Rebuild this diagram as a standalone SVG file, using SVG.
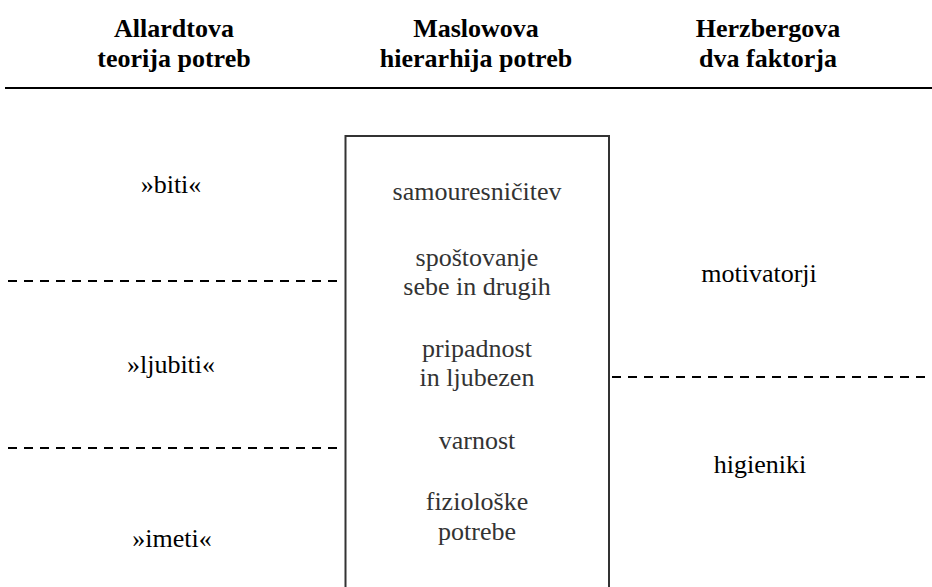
<svg xmlns="http://www.w3.org/2000/svg" width="932" height="587" viewBox="0 0 932 587">
<style>
.h{font-family:'Liberation Serif','Times New Roman',serif;font-weight:bold;font-size:26px;fill:#000;text-anchor:middle}
.t{font-family:'Liberation Serif','Times New Roman',serif;font-size:26px;fill:#000;text-anchor:middle}
.b{font-family:'Liberation Serif','Times New Roman',serif;font-size:26px;fill:#333;text-anchor:middle}
.d{stroke:#000;stroke-width:2;stroke-dasharray:9 7;fill:none}
</style>
<rect width="932" height="587" fill="#fff"/>
<g id="header">
<text class="h" x="174" y="37">Allardtova</text>
<text class="h" x="174" y="67">teorija potreb</text>
<text class="h" x="476" y="37">Maslowova</text>
<text class="h" x="476" y="67">hierarhija potreb</text>
<text class="h" x="768" y="37">Herzbergova</text>
<text class="h" x="768" y="67">dva faktorja</text>
<line x1="5" y1="88" x2="932" y2="88" stroke="#000" stroke-width="2"/>
</g>
<g id="connectors">
<line class="d" x1="8" y1="281" x2="340" y2="281"/>
<line class="d" x1="8" y1="448" x2="340" y2="448"/>
<line class="d" x1="612" y1="377" x2="932" y2="377"/>
</g>
<g id="maslow">
<path d="M345.5 587 V136 H609 V587" fill="none" stroke="#333" stroke-width="2"/>
<text class="b" x="477" y="200">samouresničitev</text>
<text class="b" x="477" y="266">spoštovanje</text>
<text class="b" x="477" y="295">sebe in drugih</text>
<text class="b" x="477" y="357">pripadnost</text>
<text class="b" x="477" y="386">in ljubezen</text>
<text class="b" x="477" y="449">varnost</text>
<text class="b" x="477" y="510">fiziološke</text>
<text class="b" x="477" y="540">potrebe</text>
</g>
<g id="allardt">
<text class="t" x="171" y="193">»biti«</text>
<text class="t" x="171" y="373">»ljubiti«</text>
<text class="t" x="172" y="547">»imeti«</text>
</g>
<g id="herzberg">
<text class="t" x="759" y="282">motivatorji</text>
<text class="t" x="760" y="473">higieniki</text>
</g>
</svg>
